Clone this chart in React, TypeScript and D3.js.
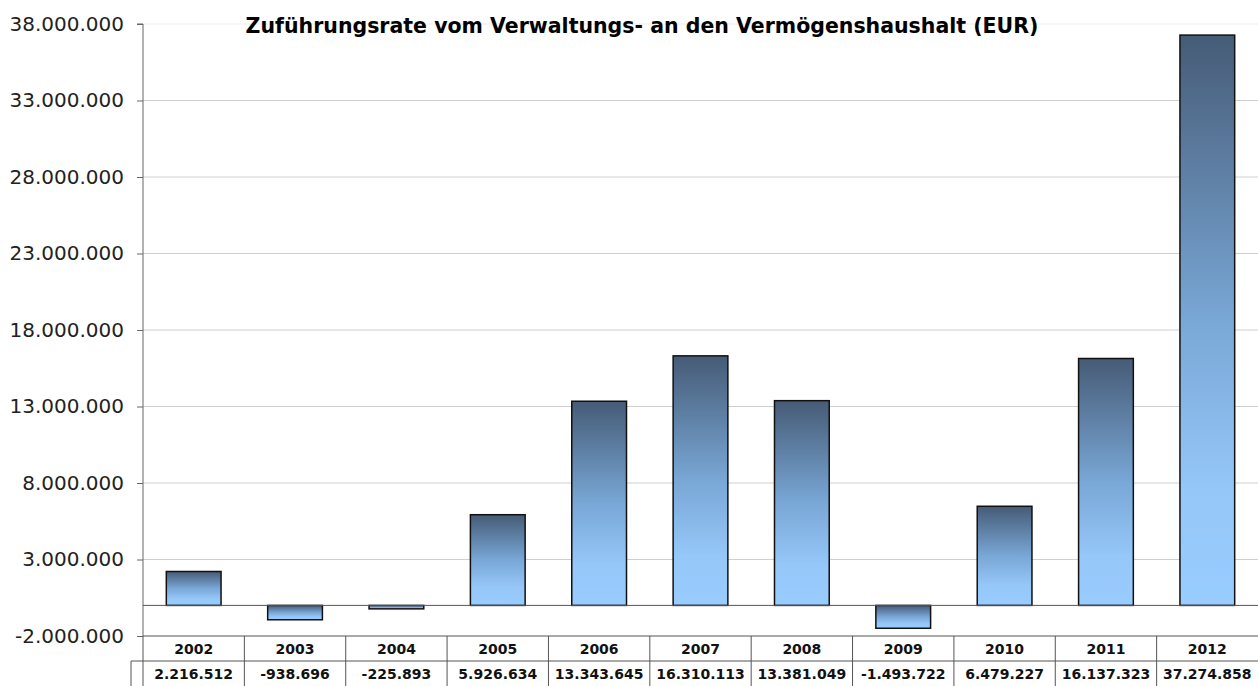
import { useRef, useEffect } from 'react'
import * as d3 from 'd3'

const years = ['2002', '2003', '2004', '2005', '2006', '2007', '2008', '2009', '2010', '2011', '2012']
const values = [2216512, -938696, -225893, 5926634, 13343645, 16310113, 13381049, -1493722, 6479227, 16137323, 37274858]
const yTicks = [-2000000, 3000000, 8000000, 13000000, 18000000, 23000000, 28000000, 33000000, 38000000]
const title = 'Zuführungsrate vom Verwaltungs- an den Vermögenshaushalt (EUR)'

export default function App() {
  const svgRef = useRef<SVGSVGElement>(null)

  useEffect(() => {
    if (!svgRef.current) return
    const svg = d3.select(svgRef.current)
    svg.selectAll('*').remove()

    const width = 1258
    const height = 686
    const left = 143
    const right = 1258
    const top = 24
    const bottom = 636
    const rowH = 25

    const de = d3.formatLocale({ decimal: ',', thousands: '.', grouping: [3], currency: ['', ' €'], minus: '-' })
    const fmt = de.format(',d')

    const x = d3.scaleBand().domain(years).range([left, right]).paddingInner(0.46).paddingOuter(0.23)
    const col = d3.scaleBand().domain(years).range([left, right])
    const y = d3.scaleLinear().domain([-2000000, 38000000]).range([bottom, top])

    svg.attr('width', width).attr('height', height)

    const grad = svg.append('defs').append('linearGradient')
      .attr('id', 'barGrad').attr('x1', 0).attr('y1', 0).attr('x2', 0).attr('y2', 1)
    grad.append('stop').attr('offset', '0%').attr('stop-color', '#465b76')
    grad.append('stop').attr('offset', '50%').attr('stop-color', '#79a7d6')
    grad.append('stop').attr('offset', '80%').attr('stop-color', '#95c7f8')
    grad.append('stop').attr('offset', '100%').attr('stop-color', '#99ccff')

    // gridlines
    svg.append('g').selectAll('line')
      .data(yTicks.filter((t) => t !== -2000000))
      .join('line')
      .attr('x1', left).attr('x2', right)
      .attr('y1', (d) => y(d)).attr('y2', (d) => y(d))
      .attr('stroke', (d) => (d === 38000000 ? '#ececec' : '#cfcfcf'))
      .attr('stroke-width', 1)

    // y axis
    const yAxis = d3.axisLeft(y).tickValues(yTicks).tickFormat((d) => fmt(d as number)).tickSize(6).tickPadding(13)
    svg.append('g')
      .attr('transform', `translate(${left},0)`)
      .call(yAxis)
      .call((g) => g.select('.domain').attr('stroke', '#666').attr('d', `M-6,${top}H0V${bottom}`))
      .call((g) => g.selectAll('.tick line').attr('stroke', '#666'))
      .call((g) => g.selectAll('.tick text').attr('fill', '#222').attr('font-size', 20).attr('font-family', 'DejaVu Sans'))

    // bars
    svg.append('g').selectAll('rect')
      .data(values)
      .join('rect')
      .attr('x', (_, i) => x(years[i])!)
      .attr('width', x.bandwidth())
      .attr('y', (d) => y(Math.max(0, d)))
      .attr('height', (d) => Math.abs(y(d) - y(0)))
      .attr('fill', 'url(#barGrad)')
      .attr('stroke', '#111')
      .attr('stroke-width', 1.5)

    // zero line
    svg.append('line')
      .attr('x1', left).attr('x2', right)
      .attr('y1', y(0)).attr('y2', y(0))
      .attr('stroke', '#555').attr('stroke-width', 1)

    // data table
    const table = svg.append('g')
    table.append('line').attr('x1', left).attr('x2', right).attr('y1', bottom).attr('y2', bottom).attr('stroke', '#555')
    table.append('line').attr('x1', 131).attr('x2', right).attr('y1', bottom + rowH).attr('y2', bottom + rowH).attr('stroke', '#555')
    table.append('line').attr('x1', 131).attr('x2', 131).attr('y1', bottom + rowH).attr('y2', height).attr('stroke', '#555')
    table.append('line').attr('x1', left).attr('x2', left).attr('y1', bottom).attr('y2', height).attr('stroke', '#555')
    table.selectAll('.sep')
      .data(years.slice(1))
      .join('line')
      .attr('class', 'sep')
      .attr('x1', (d) => col(d)!).attr('x2', (d) => col(d)!)
      .attr('y1', bottom).attr('y2', height)
      .attr('stroke', '#555')

    table.selectAll('.yr')
      .data(years)
      .join('text')
      .attr('class', 'yr')
      .attr('x', (d) => col(d)! + col.bandwidth() / 2)
      .attr('y', bottom + 17.5)
      .attr('text-anchor', 'middle')
      .attr('font-family', 'DejaVu Sans').attr('font-weight', 'bold').attr('font-size', 14)
      .attr('fill', '#111')
      .text((d) => d)

    table.selectAll('.val')
      .data(values)
      .join('text')
      .attr('class', 'val')
      .attr('x', (_, i) => col(years[i])! + col.bandwidth() / 2)
      .attr('y', bottom + rowH + 18)
      .attr('text-anchor', 'middle')
      .attr('font-family', 'DejaVu Sans').attr('font-weight', 'bold').attr('font-size', 14)
      .attr('fill', '#111')
      .text((d) => fmt(d))

    // title
    svg.append('text')
      .attr('x', 642).attr('y', 33)
      .attr('text-anchor', 'middle')
      .attr('font-family', 'DejaVu Sans').attr('font-weight', 'bold').attr('font-size', 20.5)
      .attr('fill', '#000')
      .text(title)
  }, [])

  return (
    <div style={{ position: 'absolute', left: 0, top: 0, background: '#fff' }}>
      <svg ref={svgRef} style={{ display: 'block' }} />
    </div>
  )
}
